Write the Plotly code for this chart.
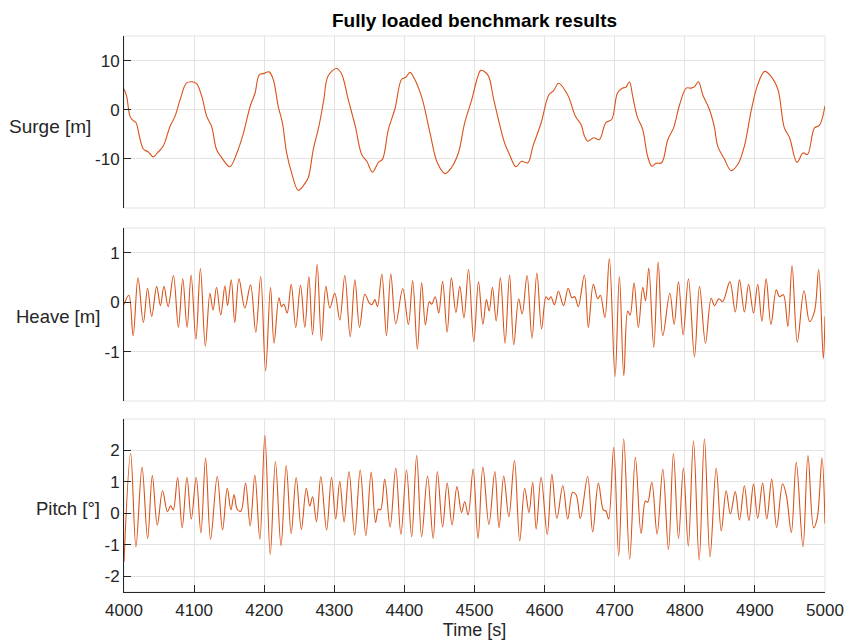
import plotly.graph_objects as go

# ---------------- data ----------------
surge_t = [4000, 4003.8, 4008.6, 4013, 4017, 4022, 4027.6, 4034.7, 4041.8, 4047.5, 4056, 4065.6, 4072.7,
           4080, 4089, 4096.4, 4103.5, 4111, 4118, 4125, 4132, 4139.5, 4151, 4161, 4170.5, 4180, 4187,
           4193, 4200, 4207, 4213, 4220, 4226, 4232, 4239, 4248.5, 4255.6, 4262.7, 4270, 4278, 4285,
           4291, 4303, 4310, 4320, 4330, 4339, 4346.4, 4354.5, 4363, 4368.7, 4377, 4386.7, 4396, 4402,
           4408, 4414, 4425, 4436.5, 4447, 4458, 4467, 4477, 4486, 4496, 4504, 4509, 4519, 4527.5, 4543,
           4550, 4559, 4567, 4576, 4583.4, 4595, 4606, 4613, 4620, 4633, 4644, 4652, 4656.7, 4661.4,
           4670, 4678, 4687.6, 4695.7, 4704, 4711.4, 4716, 4721, 4725.7, 4732, 4740, 4747, 4753, 4759,
           4767, 4775.7, 4784, 4792, 4802, 4809, 4814, 4819.5, 4825.7, 4835, 4842, 4847, 4856.7, 4866,
           4875.7, 4885, 4895, 4904, 4914, 4923, 4933, 4942, 4949.5, 4960, 4968.6, 4975, 4985, 4992, 5000]
surge_v = [4.2, 2.7, -1.35, -2.2, -2.6, -5.4, -8.0, -8.6, -9.6, -8.8, -7.4, -3.4, -1.35,
           2.0, 5.4, 5.7, 5.3, 2.7, -1.35, -3.4, -8.1, -9.8, -11.6, -8.8, -4.7, 0.7, 3.4,
           7.1, 7.4, 7.7, 6.1, 0.7, -2.7, -8.8, -12.8, -16.4, -15.5, -13.9, -8.1, -3.4, 2.0,
           6.8, 8.4, 7.4, 2.0, -3.4, -9.1, -10.5, -12.7, -10.7, -10.1, -4.1, 0.3, 6.2, 6.6,
           7.6, 6.4, 2.4, -4.7, -10.8, -13.0, -11.8, -8.8, -2.7, 2.0, 6.4, 8.0, 7.1, 2.0, -6.8,
           -9.1, -11.6, -10.5, -10.8, -7.4, -2.7, 3.0, 3.9, 5.4, 3.0, -1.35, -3.0, -5.3, -6.4,
           -5.7, -6.1, -2.6, -2.0, 3.4, 4.4, 4.6, 5.7, 2.7, -1.35, -4.05, -9.5, -11.5, -10.9,
           -10.8, -6.1, -3.7, 0.7, 4.4, 4.4, 4.7, 5.7, 3.0, 0.1, -3.4, -7.4, -10.1, -12.4,
           -11.1, -7.4, 0.0, 5.1, 7.8, 6.8, 4.05, -3.7, -5.7, -10.7, -8.8, -9.1, -3.7, -3.2, 0.8]

heave_t = [4000, 4007, 4013, 4020, 4027.6, 4033.7, 4039.5, 4046.6, 4052, 4057, 4063, 4070.5, 4077.6,
           4083.8, 4090, 4095.7, 4102.6, 4109, 4116, 4122.6, 4127, 4132, 4138, 4144, 4147.7, 4153,
           4158, 4164, 4172.4, 4180.5, 4188, 4195, 4202, 4209, 4214, 4221, 4224.7, 4228, 4232.8,
           4238.5, 4245, 4251.8, 4258, 4263.7, 4269, 4275.5, 4281.7, 4288, 4293.6, 4300.7, 4307.8,
           4315, 4322.7, 4329.4, 4336, 4343.6, 4350, 4353.6, 4357.8, 4361.6, 4367.8, 4374.4, 4380.6,
           4387.7, 4397.6, 4405.7, 4411.8, 4418.5, 4424.6, 4430, 4435.5, 4439, 4444, 4449, 4454.5,
           4461, 4467, 4473.5, 4479, 4485, 4491.5, 4499, 4505.7, 4512, 4517, 4521, 4525.6, 4531,
           4537, 4543.6, 4550, 4556, 4563, 4568, 4575, 4582, 4589, 4595.7, 4602, 4605.7, 4609, 4614,
           4619.7, 4627, 4633.6, 4639, 4643, 4648, 4656.7, 4662.4, 4669.5, 4675.7, 4679.5, 4686,
           4692.4, 4700.5, 4706.7, 4713, 4718.6, 4722, 4727.6, 4733.8, 4740, 4744, 4748.6, 4755.7,
           4762, 4768.6, 4778.6, 4784.8, 4791, 4797.6, 4805.2, 4813.8, 4821, 4829.5, 4837.6, 4842.4,
           4848.6, 4854, 4864.3, 4872, 4878, 4885, 4891, 4898, 4904, 4910, 4916, 4923, 4930.5, 4935,
           4940.5, 4947, 4953, 4960.5, 4970, 4978, 4985, 4991, 4997.6, 5000]
heave_v = [-0.05, 0.14, -0.68, 0.49, -0.41, 0.28, -0.29, 0.32, -0.07, 0.32, -0.09, 0.54, -0.51,
           0.47, -0.51, 0.55, -0.75, 0.68, -0.89, 0.18, -0.16, 0.30, -0.26, 0.33, -0.07, 0.45,
           -0.41, 0.47, -0.12, 0.35, -0.61, 0.52, -1.39, 0.30, -0.83, 0.09, -0.09, -0.04, -0.22,
           0.36, -0.51, 0.34, -0.51, 0.52, -0.66, 0.76, -0.78, 0.32, -0.12, 0.18, -0.36,
           0.54, -0.70, 0.45, -0.51, 0.16, -0.02, -0.05, 0.05, -0.09, 0.57, -0.68, 0.57,
           -0.44, 0.27, -0.45, 0.43, -0.95, 0.39, -0.46, 0.01, -0.04, 0.11, -0.22, 0.42,
           -0.61, 0.49, -0.21, 0.32, -0.32, 0.66, -0.80, 0.41, -0.45, 0.05, -0.18, 0.30, -0.38,
           0.49, -0.83, 0.55, -0.86, 0.07, -0.24, 0.54, -0.73, 0.59, -0.54, 0.11, 0.05, 0.11, -0.05,
           0.22, -0.07, 0.28, 0.09, 0.11, -0.09, 0.55, -0.51, 0.36, 0.07, 0.14, -0.31,
           0.88, -1.51, 0.52, -1.49, -0.18, -0.26, 0.39, -0.51, 0.30, 0.03, 0.69, -0.92,
           0.81, -0.68, 0.18, -0.45, 0.41, -0.66, 0.47, -1.10, 0.32, -0.83, 0.08, -0.07,
           0.07, 0.01, 0.41, -0.20, 0.45, -0.20, 0.36, -0.22, 0.36, -0.39, 0.47, -0.45, 0.25, 0.11,
           0.15, -0.49, 0.74, -0.81, 0.23, -0.39, -0.19, 0.66, -1.14, -0.29]

pitch_t = [4000, 4009.5, 4017, 4025.7, 4033.7, 4040.4, 4047.5, 4055, 4062, 4066.5, 4070.3, 4076.5,
           4083, 4089.8, 4096, 4103, 4109.7, 4116.4, 4123.5, 4133, 4140.6, 4147.3, 4152.5, 4157,
           4161.5, 4166.7, 4173.4, 4180, 4186.7, 4193.8, 4201, 4208.6, 4216, 4224, 4231.4, 4238.5,
           4245.6, 4253, 4260, 4265, 4269, 4274.6, 4280.8, 4289, 4296, 4302, 4307.8, 4314, 4321,
           4329, 4337, 4345, 4352.6, 4358.8, 4363, 4366, 4372, 4379.6, 4387.7, 4395, 4403, 4410.4,
           4417.5, 4424.6, 4433, 4441, 4447, 4454.5, 4461, 4468, 4475, 4481.5, 4486, 4491, 4498,
           4505, 4512, 4520.6, 4529, 4535, 4541.7, 4549, 4557, 4564.5, 4571.6, 4577.7, 4583, 4588,
           4595, 4603.8, 4610.4, 4617.5, 4626, 4633, 4640, 4645, 4651, 4661.4, 4668.6, 4676.7,
           4683.8, 4687.6, 4691.4, 4698.6, 4705.7, 4712.9, 4721.4, 4729.5, 4737.6, 4743.8, 4747,
           4753, 4760.5, 4768.6, 4776.7, 4783.8, 4791, 4798, 4805, 4812.4, 4820.5, 4828, 4836,
           4844.8, 4852, 4859, 4865, 4872, 4878, 4885, 4891.4, 4898, 4904, 4911, 4917, 4924, 4931,
           4939.5, 4944.8, 4952, 4959, 4968.6, 4975.7, 4983.8, 4989, 4995.7, 5000]
pitch_v = [-1.54, 1.91, -1.06, 1.47, -0.80, 1.20, -0.37, 0.72, 0.05, 0.24, 0.11, 1.14,
           -0.46, 1.14, -0.18, 1.14, -0.62, 1.76, -0.82, 1.17, -0.53, 0.80, 0.11, 0.59,
           0.13, 0.07, 0.96, -0.40, 1.22, -0.82, 2.48, -1.31, 1.65, -1.03, 1.52, -0.64,
           1.14, -0.51, 0.80, 0.23, 0.53, -0.27, 1.17, -0.53, 1.15, -0.18, 1.01, -0.27, 1.33,
           -0.69, 1.38, -0.71, 1.31, -0.29, 0.14, 0.11, 1.09, -0.43, 1.44, -0.67, 1.38, -0.74,
           1.84, -0.74, 1.19, -0.80, 1.33, -0.43, 0.96, -0.37, 0.85, 0.03, 0.37, -0.05, 1.41,
           -0.80, 1.47, -0.35, 1.33, -0.46, 1.19, -0.11, 1.68, -0.88, 0.80, 0.03, 0.99, -0.50,
           1.15, -0.67, 1.24, -0.16, 0.88, -0.18, 0.67, 0.59, -0.16, 1.17, -0.59, 0.96,
           0.11, 0.07, -0.18, 2.10, -1.35, 2.37, -1.46, 1.78, -0.64, 0.39, 0.35,
           0.99, -0.66, 1.41, -1.15, 1.91, -0.80, 1.44, -1.04, 2.31, -1.49, 2.37, -1.38,
           1.44, -0.56, 0.72, -0.02, 0.69, -0.21, 0.88, -0.23, 0.93, -0.16, 0.96, -0.18, 1.09, -0.45,
           0.94, 0.59, -0.61, 1.62, -1.06, 1.84, -0.46, -0.14, 1.76, -0.32]

x_ticks = [4000, 4100, 4200, 4300, 4400, 4500, 4600, 4700, 4800, 4900, 5000]
surge_ticks = [-20, -10, 0, 10]
surge_ticktext = ["", "-10", "0", "10"]
heave_ticks = [-2, -1, 0, 1]
heave_ticktext = ["", "-1", "0", "1"]
pitch_ticks = [-2, -1, 0, 1, 2, 3]
pitch_ticktext = ["-2", "-1", "0", "1", "2", ""]

title_text = "Fully loaded benchmark results"
ylabels = ["Surge [m]", "Heave [m]", "Pitch [°]"]
xlabel = "Time [s]"

# ---------------- styling ----------------
LINE = "#D95319"
AX = "#262626"
GRID = "#e3e3e3"
FONT = "Liberation Sans, Arial, sans-serif"

fig = go.Figure()
series = [(surge_t, surge_v, "x", "y"), (heave_t, heave_v, "x2", "y2"), (pitch_t, pitch_v, "x3", "y3")]
for t, v, xa, ya in series:
    fig.add_trace(go.Scatter(x=t, y=v, mode="lines", xaxis=xa, yaxis=ya, showlegend=False,
                             line=dict(color=LINE, width=1.1, shape="spline", smoothing=1.0),
                             hoverinfo="skip"))

H = 556.0
doms = [[(592 - 208) / H, 1.0], [(592 - 401) / H, (592 - 228) / H], [0.0, (592 - 419) / H]]

def xax(anchor, bottom):
    d = dict(range=[4000, 5000], anchor=anchor, domain=[0, 1], tickvals=x_ticks, automargin=False,
             showgrid=True, gridcolor=GRID, gridwidth=1, zeroline=False)
    if bottom:
        d.update(showline=True, linecolor=AX, linewidth=1, ticks="inside", ticklen=7,
                 tickcolor=AX, tickwidth=1, showticklabels=True, ticklabelstandoff=3,
                 tickfont=dict(family=FONT, size=17, color=AX),
                 title=dict(text=xlabel, font=dict(family=FONT, size=18, color=AX), standoff=2))
    else:
        d.update(showline=False, ticks="", showticklabels=False)
    return d

def yax(anchor, rng, tv, tt, dom):
    return dict(range=rng, anchor=anchor, domain=dom, tickvals=tv, ticktext=tt, automargin=False,
                showgrid=True, gridcolor=GRID, gridwidth=1, zeroline=False,
                showline=True, linecolor=AX, linewidth=1, ticks="inside", ticklen=7,
                tickcolor=AX, tickwidth=1, tickfont=dict(family=FONT, size=17, color=AX))

fig.update_layout(
    width=845, height=640, margin=dict(l=124, r=20, t=36, b=48, autoexpand=False),
    plot_bgcolor="white", paper_bgcolor="white",
    xaxis=xax("y", False), xaxis2=xax("y2", False), xaxis3=xax("y3", True),
    yaxis=yax("x", [-20, 15], surge_ticks, surge_ticktext, doms[0]),
    yaxis2=yax("x2", [-2, 1.5], heave_ticks, heave_ticktext, doms[1]),
    yaxis3=yax("x3", [-2.5, 3], pitch_ticks, pitch_ticktext, doms[2]),
    title=dict(text="<b>" + title_text + "</b>", x=0.5, xref="paper", xanchor="center",
               y=1 - 20 / 640, yref="container", yanchor="middle",
               font=dict(family=FONT, size=19, color="black")),
)

# light box around each panel
for i, (xa, ya) in enumerate([("x", "y"), ("x2", "y2"), ("x3", "y3")]):
    fig.add_shape(type="rect", xref=xa + " domain", yref=ya + " domain", x0=0, x1=1, y0=0, y1=1,
                  line=dict(color=GRID, width=1), layer="below")

# horizontal y-axis labels
label_pos = [(93, 126), (102, 316), (102, 508)]
label_size = [19, 18.5, 18.5]
for text, (px, py), fs in zip(ylabels, label_pos, label_size):
    fig.add_annotation(text=text, xref="paper", yref="paper", x=(px - 124) / 701.0,
                       y=(592 - py) / H, xanchor="right", yanchor="middle", showarrow=False,
                       font=dict(family=FONT, size=fs, color=AX))

fig.write_html("out.html")
